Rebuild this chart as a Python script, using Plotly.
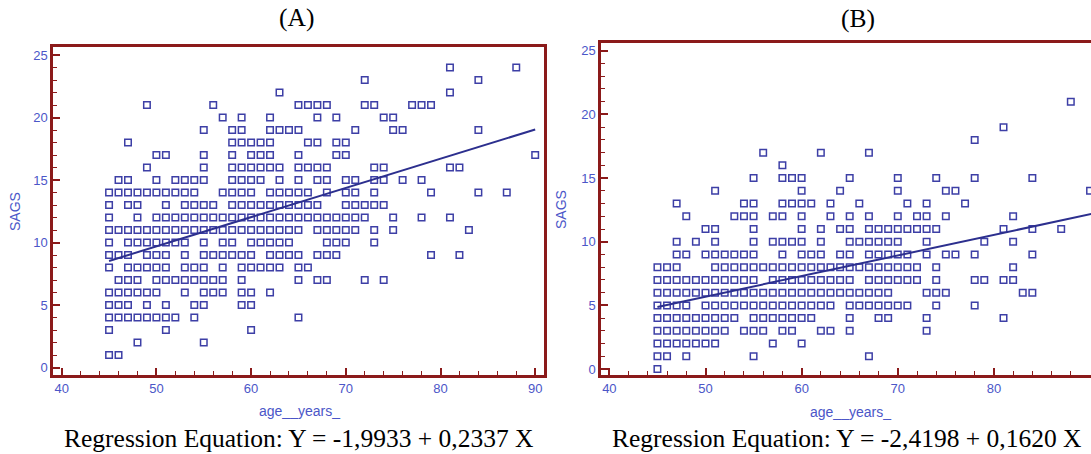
import plotly.graph_objects as go

# ---------------- data (age in years, SAGS score) ----------------
# Panel A: rows of SAGS value -> ages observed
A_rows = {
    24: [81, 88],
    23: [72, 84],
    22: [63, 81],
    21: [49, 56, 65, 66, 67, 68, 72, 73, 77, 78, 79],
    20: [57, 59, 62, 67, 69, 74, 75],
    19: [55, 58, 59, 62, 63, 64, 65, 71, 75, 76, 84],
    18: [47, 58, 59, 60, 61, 62, 66, 67, 69, 70],
    17: [50, 51, 55, 58, 60, 61, 62, 65, 69, 70, 90],
    16: [49, 55, 58, 59, 60, 61, 62, 63, 65, 66, 67, 68, 73, 74, 81, 82],
    15: [46, 47, 50, 52, 53, 54, 55, 58, 59, 60, 61, 63, 65, 67, 68, 70, 71, 73, 74, 76, 78],
    14: [45, 46, 47, 48, 49, 50, 51, 52, 53, 54, 57, 58, 59, 60, 62, 63, 64, 65, 66, 68, 70, 71, 73, 79, 84, 87],
    13: [45, 47, 48, 51, 53, 54, 55, 56, 58, 59, 60, 61, 62, 63, 64, 65, 66, 67, 70, 71, 72, 73, 74],
    12: [45, 48, 50, 51, 52, 53, 54, 55, 56, 57, 58, 59, 60, 61, 62, 63, 64, 65, 66, 67, 68, 69, 70, 71, 72, 75, 78, 81],
    11: [45, 46, 47, 48, 49, 50, 51, 52, 53, 54, 55, 56, 57, 58, 59, 60, 61, 62, 63, 64, 65, 67, 68, 69, 70, 71, 73, 75, 83],
    10: [45, 47, 48, 49, 50, 51, 52, 53, 55, 57, 58, 60, 61, 62, 63, 64, 68, 69, 70, 73],
    9: [45, 46, 47, 49, 50, 51, 53, 55, 56, 57, 58, 59, 60, 62, 63, 64, 65, 67, 68, 69, 79, 82],
    8: [45, 47, 48, 49, 50, 51, 53, 54, 55, 57, 59, 60, 61, 62, 63, 65, 66],
    7: [46, 47, 48, 50, 51, 52, 53, 54, 55, 56, 57, 59, 65, 67, 68, 72, 74],
    6: [45, 46, 47, 48, 49, 50, 53, 55, 56, 57, 59, 60, 62],
    5: [45, 46, 47, 49, 51, 54, 55, 59, 60],
    4: [45, 46, 47, 48, 49, 50, 51, 52, 54, 65],
    3: [45, 51, 60],
    2: [48, 55],
    1: [45, 46],
}

# Panel B
B_rows = {
    21: [88],
    19: [81],
    18: [78],
    17: [56, 62, 67],
    16: [58],
    15: [55, 58, 59, 60, 65, 70, 74, 78, 84],
    14: [51, 60, 64, 70, 75, 76, 90],
    13: [47, 54, 55, 58, 59, 60, 61, 63, 66, 71, 73, 77],
    12: [48, 53, 54, 55, 57, 58, 60, 63, 65, 67, 70, 72, 73, 75, 82],
    11: [50, 51, 55, 60, 62, 64, 65, 67, 68, 69, 70, 71, 72, 73, 74, 81, 84, 87],
    10: [47, 49, 51, 55, 57, 58, 59, 60, 62, 65, 66, 67, 68, 69, 70, 73, 79, 82],
    9: [47, 48, 50, 51, 52, 53, 54, 55, 58, 60, 61, 62, 64, 65, 67, 68, 69, 70, 71, 73, 75, 76, 78, 84],
    8: [45, 46, 47, 51, 52, 53, 54, 55, 56, 57, 58, 59, 60, 61, 62, 63, 64, 65, 66, 67, 68, 69, 70, 71, 72, 74, 82],
    7: [45, 46, 47, 48, 49, 50, 51, 52, 53, 54, 55, 57, 58, 59, 60, 61, 62, 63, 64, 65, 67, 68, 69, 70, 71, 72, 74, 78, 79, 81, 82],
    6: [45, 46, 47, 48, 49, 50, 51, 52, 53, 54, 55, 56, 57, 58, 59, 60, 61, 62, 63, 64, 65, 66, 67, 68, 69, 73, 74, 75, 83, 84],
    5: [45, 46, 47, 48, 50, 51, 52, 53, 54, 55, 56, 57, 58, 59, 60, 61, 62, 63, 65, 66, 67, 68, 69, 70, 71, 74, 78],
    4: [45, 46, 47, 48, 49, 50, 51, 52, 53, 55, 56, 57, 58, 59, 60, 61, 65, 68, 69, 73, 81],
    3: [45, 46, 47, 48, 49, 50, 51, 52, 54, 55, 56, 58, 59, 62, 63, 65, 73],
    2: [45, 46, 47, 48, 49, 50, 51, 57, 60],
    1: [45, 46, 48, 55, 67],
    0: [45],
}

# Regression coefficients (from the printed equations)
A_intercept, A_slope = -1.9933, 0.2337
B_intercept, B_slope = -2.4198, 0.1620
A_line_x = [45, 90]
B_line_x = [45, 91]

panel_titles = ["(A)", "(B)"]
equations = ["Regression Equation: Y = -1,9933 + 0,2337 X",
             "Regression Equation: Y = -2,4198 + 0,1620 X"]
x_title = "age__years_"
y_title = "SAGS"

# ---------------- styling ----------------
W, H = 1091, 454
MARK = "#3d3fa6"
LINE = "#2c2f8e"
BORDER = "#8b1a1a"
TICKTXT = "#4b56c8"


def flatten(rows):
    xs, ys = [], []
    for yv, ages in rows.items():
        for a in ages:
            xs.append(a)
            ys.append(yv)
    return xs, ys


def px(x):
    return x / W


def py(y):
    return 1 - y / H


fig = go.Figure()

for rows, icpt, slope, lx, xa, ya in [
    (A_rows, A_intercept, A_slope, A_line_x, "x", "y"),
    (B_rows, B_intercept, B_slope, B_line_x, "x2", "y2"),
]:
    xs, ys = flatten(rows)
    fig.add_trace(go.Scatter(
        x=xs, y=ys, mode="markers", xaxis=xa, yaxis=ya,
        marker=dict(symbol="square-open", size=6.5, color=MARK, line=dict(width=1.5, color=MARK)),
        showlegend=False, hoverinfo="x+y"))
    fig.add_trace(go.Scatter(
        x=lx, y=[icpt + slope * v for v in lx], mode="lines", xaxis=xa, yaxis=ya,
        line=dict(color=LINE, width=2), showlegend=False, hoverinfo="skip"))


def xaxis_cfg(domain, rng):
    return dict(
        domain=domain, range=rng, showgrid=False, zeroline=False,
        showline=True, linecolor=BORDER, linewidth=2.5, mirror=True,
        ticks="inside", ticklen=7, tickwidth=1.5, tickcolor=BORDER,
        tickmode="linear", tick0=40, dtick=10,
        minor=dict(ticks="inside", ticklen=4, tickwidth=1.2, tickcolor=BORDER, dtick=2, tick0=40),
        tickfont=dict(family="Liberation Sans, Arial", size=13, color=TICKTXT),
        automargin=False, fixedrange=True)


def yaxis_cfg(domain, rng, anchor, mirror):
    return dict(
        domain=domain, range=rng, showgrid=False, zeroline=False, anchor=anchor,
        showline=True, linecolor=BORDER, linewidth=2.5, mirror=mirror,
        ticks="inside", ticklen=7, tickwidth=1.5, tickcolor=BORDER,
        tickmode="linear", tick0=0, dtick=5,
        minor=dict(ticks="inside", ticklen=4, tickwidth=1.2, tickcolor=BORDER, dtick=1, tick0=0),
        tickfont=dict(family="Liberation Sans, Arial", size=13, color=TICKTXT),
        automargin=False, fixedrange=True)


xa = xaxis_cfg([px(53), px(544)], [39.08, 90.93])
xa["anchor"] = "y"
xb = xaxis_cfg([px(601), 1.0], [39.13, 90.1])
xb["anchor"] = "y2"
ya = yaxis_cfg([py(375), py(47)], [-0.6, 25.64], "x", True)
yb = yaxis_cfg([py(375), py(43.3)], [-0.47, 25.59], "x2", False)

annotations = []
serif = dict(family="Liberation Serif, Times New Roman, serif", size=25.5, color="#000000")
sans = dict(family="Liberation Sans, Arial", size=14, color=TICKTXT)
for t, cx, cy in [(panel_titles[0], 297, 18), (panel_titles[1], 858, 19)]:
    annotations.append(dict(text=t, x=px(cx), y=py(cy), xref="paper", yref="paper",
                            xanchor="center", yanchor="middle", showarrow=False, font=serif))
for t, cx, cy in [(equations[0], 299, 438), (equations[1], 847, 438)]:
    annotations.append(dict(text=t, x=px(cx), y=py(cy), xref="paper", yref="paper",
                            xanchor="center", yanchor="middle", showarrow=False, font=serif))
for cx, cy in [(299, 411), (850, 412)]:
    annotations.append(dict(text=x_title, x=px(cx), y=py(cy), xref="paper", yref="paper",
                            xanchor="center", yanchor="middle", showarrow=False, font=sans))
for cx, cy in [(15, 212), (561, 210)]:
    annotations.append(dict(text=y_title, x=px(cx), y=py(cy), xref="paper", yref="paper",
                            xanchor="center", yanchor="middle", showarrow=False, textangle=-90,
                            font=sans))

fig.update_layout(
    width=W, height=H, margin=dict(l=0, r=0, t=0, b=0),
    paper_bgcolor="white", plot_bgcolor="white",
    xaxis=xa, yaxis=ya, xaxis2=xb, yaxis2=yb,
    annotations=annotations, showlegend=False,
)

fig.write_html(
    "out.html",
    config={"displayModeBar": False},
    post_script="document.body.style.margin='0';document.body.style.padding='0';"
                "document.body.style.overflow='hidden';",
)
